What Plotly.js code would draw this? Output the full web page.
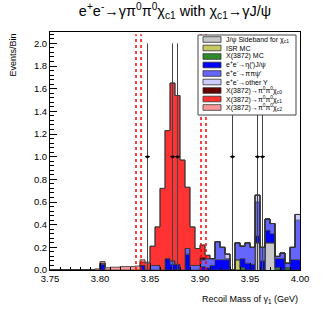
<!DOCTYPE html>
<html>
<head>
<meta charset="utf-8">
<script src="https://cdn.plot.ly/plotly-3.0.1.min.js"></script>
<style>
  html, body { margin: 0; padding: 0; background: #fff; }
  #gd { width: 333px; height: 320px; }
</style>
</head>
<body>
<div id="gd"></div>
<script>
// 50 bins of 5 MeV from 3.75 to 4.00 GeV
let binStart = 3.75;
let binWidth = 0.005;
let nBins = 50;

let sideband = [0,0,0,0,0,0,0,0,0,0, 0,0,0,0,0,0,0,0,0,0, 0,0,0,0,0,0,0,0,0,0, 0,0,0,0,0,0,0,0,0,0, 0,0.24,0,0.24,0.24,0,0,0,0,0];
let isrMC = [0,0,0,0,0,0,0,0,0,0, 0,0,0,0,0,0,0,0,0,0, 0,0,0,0,0,0,0,0,0,0, 0,0,0,0,0,0,0,0.09,0,0, 0,0,0,0,0,0,0,0,0,0];
let x3872MC = [0,0,0,0,0,0,0,0,0,0, 0,0,0,0,0,0,0,0,0,0, 0,0,0,0,0,0,0,0,0,0, 0,0,0,0,0,0,0,0,0.02,0, 0,0,0,0,0,0.02,0,0.02,0,0];
let etaJpsi = [0,0,0,0,0,0,0,0,0,0, 0.05,0,0,0,0,0,0,0,0.04,0, 0,0,0,0.10,0.05,0.05,0,0.14,0,0, 0.03,0.02,0.04,0.09,0.09,0.09,0,0,0.08,0.06, 0.05,0.06,0.08,0.11,0.08,0.08,0.10,0,0.09,0.09];
let pipiPsi = [0,0,0,0,0,0,0,0,0,0, 0,0,0,0,0,0,0,0,0,0, 0.04,0.04,0,0,0.03,0,0,0.05,0.04,0.04, 0.06,0.08,0.06,0.16,0.11,0.01,0,0.15,0.11,0.18, 0.15,0.30,0.12,0.10,0.09,0.02,0.05,0.04,0.11,0.35];
let otherY = [0,0,0,0,0,0,0,0,0,0, 0.01,0,0,0,0,0,0,0,0,0, 0,0,0,0,0,0,0,0,0,0, 0,0,0,0,0,0.04,0,0,0,0, 0,0.06,0,0,0,0,0,0,0,0.05];
let chic0 = [0,0,0,0,0,0,0,0,0,0, 0,0,0,0,0,0,0,0,0,0, 0,0,0,0,0,0,0,0,0,0, 0.02,0,0,0,0,0,0,0,0,0, 0,0,0,0,0,0,0,0,0,0];
let chic1 = [0,0,0,0,0,0,0,0,0,0, 0,0,0,0,0,0,0,0,0.03,0.06, 0.17,0.34,0.72,1.13,1.57,1.49,0.97,0.54,0.34,0.15, 0.11,0.03,0,0,0,0,0,0,0,0, 0,0,0,0,0,0,0,0,0,0];
let chic2 = [0,0,0,0,0,0,0,0,0.005,0.01, 0.015,0.02,0.025,0.025,0.03,0.03,0.03,0.035,0.02,0.01, 0,0,0,0,0,0,0,0,0,0, 0,0,0,0,0,0,0,0,0,0, 0,0,0,0,0,0,0,0,0,0];

let dataX = [3.8475, 3.8725, 3.8775, 3.9325, 3.9575, 3.9625];
let dataY = [1, 1, 1, 1, 1, 1];
let dataErr = [1, 1, 1, 1, 1, 1];

let cutLines = [3.836, 3.841, 3.901, 3.906];

let components = [
  {y: sideband, color: '#c8c8c8', name: 'J/ψ Sideband for χ<sub>c1</sub>'},
  {y: isrMC, color: '#c8c864', name: 'ISR MC'},
  {y: x3872MC, color: '#2e8b2e', name: 'X(3872) MC'},
  {y: etaJpsi, color: '#0000ff', name: 'e<sup>+</sup>e<sup>-</sup>→η(′)J/ψ'},
  {y: pipiPsi, color: '#6666ff', name: 'e<sup>+</sup>e<sup>-</sup>→ππψ′'},
  {y: otherY, color: '#ccccff', name: 'e<sup>+</sup>e<sup>-</sup>→other Y'},
  {y: chic0, color: '#660000', name: 'X(3872)→π<sup>0</sup>π<sup>0</sup>χ<sub>c0</sub>'},
  {y: chic1, color: '#ff3333', name: 'X(3872)→π<sup>0</sup>π<sup>0</sup>χ<sub>c1</sub>'},
  {y: chic2, color: '#ff9999', name: 'X(3872)→π<sup>0</sup>π<sup>0</sup>χ<sub>c2</sub>'}
];

let edges = [];
for (let i = 0; i <= nBins; i++) edges.push(+(binStart + i * binWidth).toFixed(4));

let data = components.map(c => ({
  x: edges,
  y: c.y.concat([c.y[c.y.length - 1]]),
  type: 'scatter',
  mode: 'lines',
  stackgroup: 'mc',
  line: {shape: 'hv', color: '#333', width: 0.8},
  fillcolor: c.color,
  showlegend: false,
  hoverinfo: 'skip'
}));

data.push({
  x: dataX,
  y: dataY,
  type: 'scatter',
  mode: 'markers',
  marker: {color: '#000', size: 3},
  error_y: {type: 'data', array: dataErr, color: '#444', thickness: 1, width: 0},
  error_x: {type: 'constant', value: binWidth / 2, color: '#000', thickness: 1, width: 0},
  showlegend: false
});

// plot area in pixels: left 50, top 32, 250 x 238
function px(x) { return (x - 50) / 250; }
function py(y) { return (270 - y) / 238; }

let shapes = cutLines.map(c => ({
  type: 'line', xref: 'x', yref: 'y', x0: c, x1: c, y0: 0, y1: 2.08,
  line: {color: '#ff0000', width: 1.5, dash: 'dot'}
}));

shapes.push({
  type: 'rect', xref: 'paper', yref: 'paper',
  x0: px(198), x1: px(296), y0: py(115), y1: py(35),
  fillcolor: '#fff', line: {color: '#444', width: 1}
});

let annotations = [];
components.forEach((c, i) => {
  let cy = 39.5 + 8.5 * i;
  shapes.push({
    type: 'rect', xref: 'paper', yref: 'paper',
    x0: px(203), x1: px(221), y0: py(cy + 2.8), y1: py(cy - 2.8),
    fillcolor: c.color, line: {color: '#333', width: 0.8}
  });
  annotations.push({
    xref: 'paper', yref: 'paper', x: px(224), y: py(cy),
    xanchor: 'left', yanchor: 'middle', showarrow: false,
    text: c.name, font: {family: 'Liberation Sans, Arial, sans-serif', size: 7, color: '#000'}
  });
});

annotations.push({
  xref: 'paper', yref: 'paper', x: 1, y: py(292), xanchor: 'right', yanchor: 'top',
  showarrow: false, text: 'Recoil Mass of γ<sub>1</sub> (GeV)',
  font: {family: 'Liberation Sans, Arial, sans-serif', size: 9, color: '#000'}
});
annotations.push({
  xref: 'paper', yref: 'paper', x: px(12), y: 1, xanchor: 'center', yanchor: 'top',
  textangle: -90, showarrow: false, text: 'Events/Bin',
  font: {family: 'Liberation Sans, Arial, sans-serif', size: 9, color: '#000'}
});

let layout = {
  width: 333,
  height: 320,
  margin: {l: 50, r: 33, t: 32, b: 50},
  paper_bgcolor: '#fff',
  plot_bgcolor: '#fff',
  title: {
    text: 'e<sup>+</sup>e<sup>-</sup>→γπ<sup>0</sup>π<sup>0</sup>χ<sub>c1</sub> with χ<sub>c1</sub>→γJ/ψ',
    font: {family: 'Liberation Sans, Arial, sans-serif', size: 14.5, color: '#000'},
    x: 0.5, xref: 'paper', y: 0.965, yanchor: 'middle'
  },
  font: {family: 'Liberation Sans, Arial, sans-serif', size: 9.5, color: '#000'},
  xaxis: {
    range: [3.75, 4.0],
    autorange: false,
    showgrid: false,
    zeroline: false,
    showline: true,
    mirror: true,
    linecolor: '#000',
    linewidth: 1,
    ticks: 'inside',
    ticklen: 7,
    tickcolor: '#000',
    dtick: 0.05,
    tick0: 3.75,
    tickformat: '.2f',
    minor: {ticks: 'inside', dtick: 0.01, ticklen: 3.5, tickcolor: '#000'}
  },
  yaxis: {
    range: [0, 2.1],
    autorange: false,
    showgrid: false,
    zeroline: false,
    showline: true,
    mirror: true,
    linecolor: '#000',
    linewidth: 1,
    ticks: 'inside',
    ticklen: 7,
    tickcolor: '#000',
    dtick: 0.2,
    tickformat: '.1f',
    minor: {ticks: 'inside', dtick: 0.04, ticklen: 3.5, tickcolor: '#000'}
  },
  shapes: shapes,
  annotations: annotations,
  showlegend: false
};

Plotly.newPlot('gd', data, layout, {staticPlot: true});
</script>
</body>
</html>
